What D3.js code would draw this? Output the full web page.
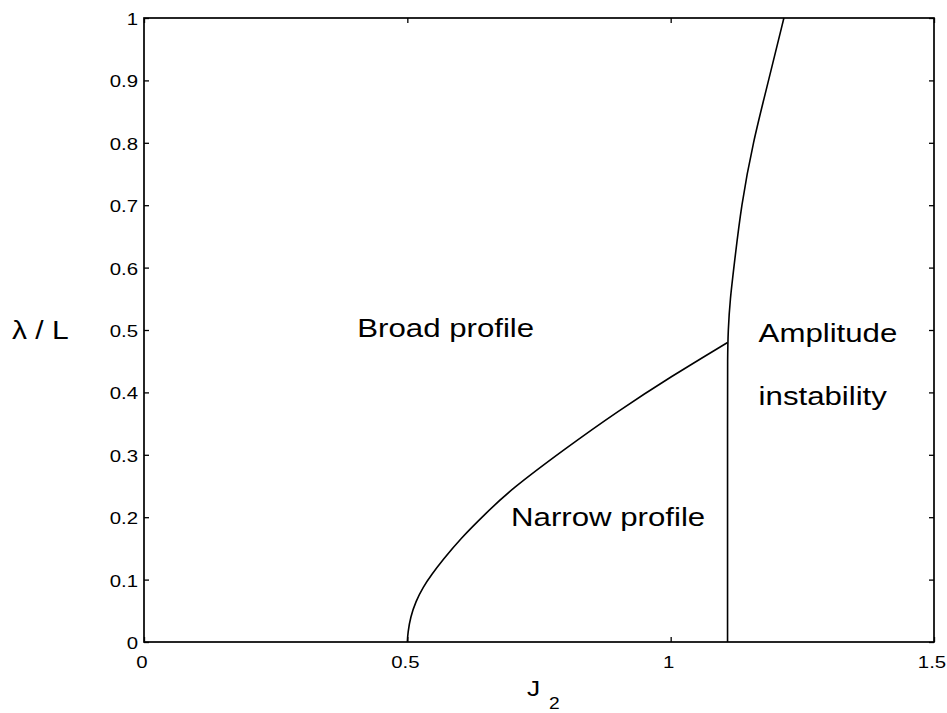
<!DOCTYPE html>
<html>
<head>
<meta charset="utf-8">
<script src="https://cdn.jsdelivr.net/npm/d3@7"></script>
<style>
  body { margin: 0; background: #fff; }
  svg text { font-family: "Liberation Sans", Arial, Helvetica, sans-serif; fill: #000; }
</style>
</head>
<body>
<div id="chart"></div>
<script>
// boundary between broad and narrow profile (J2, lambda/L)
var narrowJ = [0.5, 0.501, 0.506, 0.516, 0.53, 0.546, 0.567, 0.6, 0.65, 0.696, 0.8, 0.9, 1.0, 1.108];
var narrowL = [0, 0.015, 0.04, 0.065, 0.088, 0.108, 0.131, 0.165, 0.207, 0.244, 0.31, 0.37, 0.425, 0.48];

// amplitude instability boundary
var ampJ = [1.108, 1.108, 1.108, 1.109, 1.113, 1.12, 1.134, 1.156, 1.186, 1.215];
var ampL = [0, 0.4, 0.45, 0.5, 0.55, 0.6, 0.7, 0.8, 0.9, 1.0];

var xTicks = [0, 0.5, 1, 1.5];
var xTickLabels = ["0", "0.5", "1", "1.5"];
var yTicks = [0, 0.1, 0.2, 0.3, 0.4, 0.5, 0.6, 0.7, 0.8, 0.9, 1];
var yTickLabels = ["0", "0.1", "0.2", "0.3", "0.4", "0.5", "0.6", "0.7", "0.8", "0.9", "1"];

var regionLabels = ["Broad profile", "Narrow profile", "Amplitude", "instability"];
var regionJ = [0.405, 0.697, 1.167, 1.167];
var regionL = [0.503, 0.2, 0.495, 0.395];

var width = 947, height = 713;
var margin = {top: 18, right: 13, bottom: 71, left: 144};
var stretch = 1.2; // the scanned glyphs are wider than tall

var svg = d3.select("#chart").append("svg")
    .attr("width", width)
    .attr("height", height);

var x = d3.scaleLinear().domain([0, 1.5]).range([margin.left, width - margin.right]);
var y = d3.scaleLinear().domain([0, 1]).range([height - margin.bottom, margin.top]);

var tick = 5;

function place(px, py) {
    return "translate(" + px + "," + py + ") scale(" + stretch + ",1)";
}

// frame
svg.append("rect")
    .attr("x", x(0)).attr("y", y(1))
    .attr("width", x(1.5) - x(0)).attr("height", y(0) - y(1))
    .attr("fill", "none")
    .attr("stroke", "#000")
    .attr("stroke-width", 1.7);

// inward ticks on all sides
var xAxisB = d3.axisBottom(x).tickValues(xTicks).tickSize(-tick).tickFormat("");
var xAxisT = d3.axisTop(x).tickValues(xTicks).tickSize(-tick).tickFormat("");
var yAxisL = d3.axisLeft(y).tickValues(yTicks).tickSize(-tick).tickFormat("");
var yAxisR = d3.axisRight(y).tickValues(yTicks).tickSize(-tick).tickFormat("");

svg.append("g").attr("transform", "translate(0," + y(0) + ")").call(xAxisB);
svg.append("g").attr("transform", "translate(0," + y(1) + ")").call(xAxisT);
svg.append("g").attr("transform", "translate(" + x(0) + ",0)").call(yAxisL);
svg.append("g").attr("transform", "translate(" + x(1.5) + ",0)").call(yAxisR);
svg.selectAll(".domain").remove();
svg.selectAll(".tick line").attr("stroke", "#000").attr("stroke-width", 1.3);

// tick labels
svg.append("g").selectAll("text")
    .data(xTicks)
    .enter().append("text")
    .attr("transform", function(d) { return place(x(d) - 2, y(0) + 26); })
    .attr("text-anchor", "middle")
    .attr("font-size", 17)
    .text(function(d, i) { return xTickLabels[i]; });

svg.append("g").selectAll("text")
    .data(yTicks)
    .enter().append("text")
    .attr("transform", function(d) { return place(x(0) - 6, y(d) + 7); })
    .attr("text-anchor", "end")
    .attr("font-size", 17)
    .text(function(d, i) { return yTickLabels[i]; });

// axis labels
svg.append("text")
    .attr("transform", place(12, y(0.5) + 9))
    .attr("font-size", 25)
    .text("\u03bb / L");

svg.append("text")
    .attr("transform", place(527, 696))
    .attr("font-size", 22)
    .text("J");
svg.append("text")
    .attr("transform", place(549, 709))
    .attr("font-size", 16)
    .text("2");

// boundaries
function boundary(js, ls) {
    svg.append("path")
        .datum(d3.zip(js, ls))
        .attr("d", d3.line()
            .x(function(d) { return x(d[0]); })
            .y(function(d) { return y(d[1]); })
            .curve(d3.curveBasis))
        .attr("fill", "none")
        .attr("stroke", "#000")
        .attr("stroke-width", 1.6);
}
boundary(narrowJ, narrowL);
boundary(ampJ, ampL);

// region labels
svg.append("g").selectAll("text")
    .data(regionLabels)
    .enter().append("text")
    .attr("transform", function(d, i) { return place(x(regionJ[i]), y(regionL[i]) + 9); })
    .attr("font-size", 26)
    .text(function(d) { return d; });
</script>
</body>
</html>
